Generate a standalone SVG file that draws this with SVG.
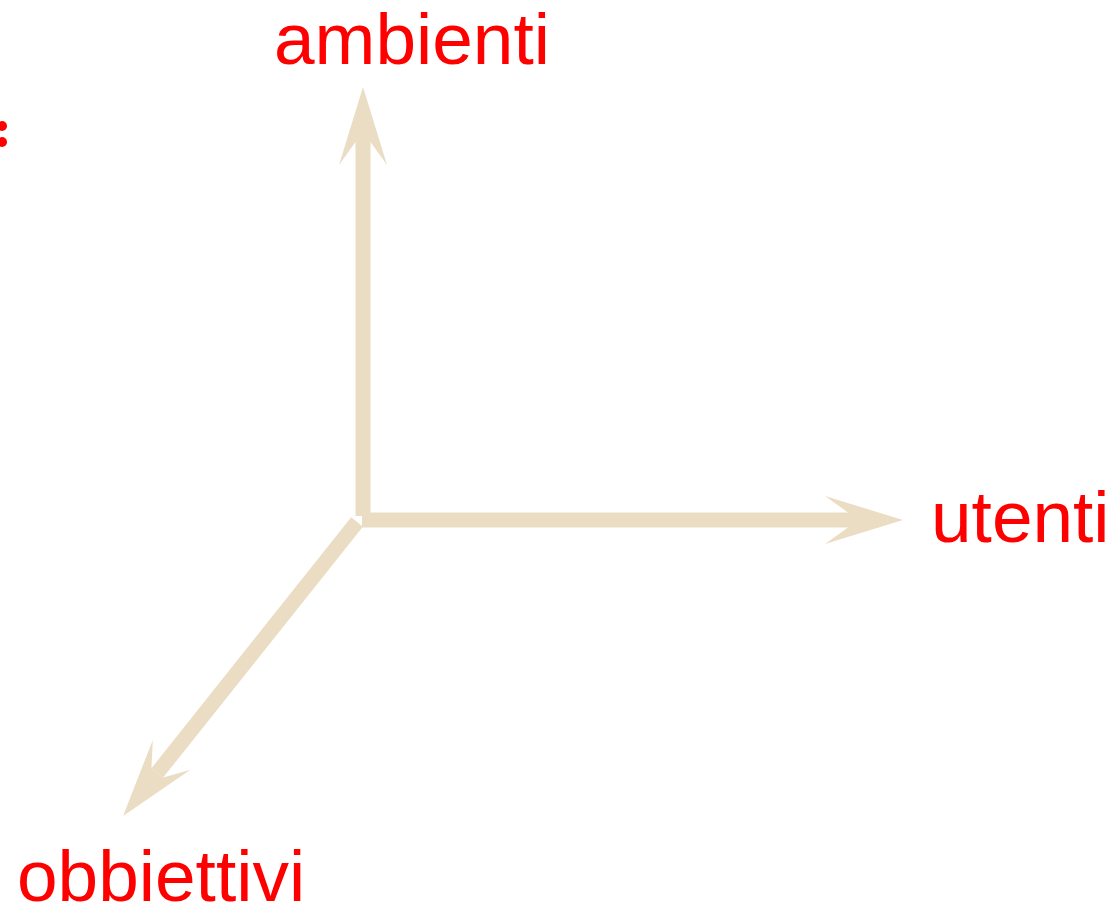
<svg xmlns="http://www.w3.org/2000/svg" width="1116" height="906" viewBox="0 0 1116 906">
<style>
.axis{stroke:#EADDC4;stroke-width:15;fill:none;stroke-linecap:butt;marker-end:url(#head)}
.lbl{font-family:"Liberation Sans",Arial,sans-serif;font-size:73px;fill:#FF0000}
.dot{fill:#FF0000}
</style>
<defs>
<marker id="head" markerUnits="userSpaceOnUse" orient="auto" refX="0" refY="0" markerWidth="200" markerHeight="200" overflow="visible">
<path d="M55,0 L-23,-24 L0,-7.5 L0,7.5 L-23,24 Z" fill="#EADDC4"/>
</marker>
</defs>
<rect width="1116" height="906" fill="#FFFFFF"/>
<g id="mark">
<circle class="dot" cx="2" cy="126" r="5"/>
<circle class="dot" cx="2" cy="142" r="5"/>
</g>
<g id="connectors">
<line class="axis" x1="363" y1="516" x2="363" y2="142"/>
<line class="axis" x1="362" y1="520" x2="848" y2="520"/>
<line class="axis" x1="357" y1="522" x2="157.3" y2="772.9"/>
</g>
<g id="ambienti"><text class="lbl" x="274" y="64">ambienti</text></g>
<g id="utenti"><text class="lbl" x="931" y="542">utenti</text></g>
<g id="obbiettivi"><text class="lbl" x="17" y="901">obbiettivi</text></g>
</svg>
